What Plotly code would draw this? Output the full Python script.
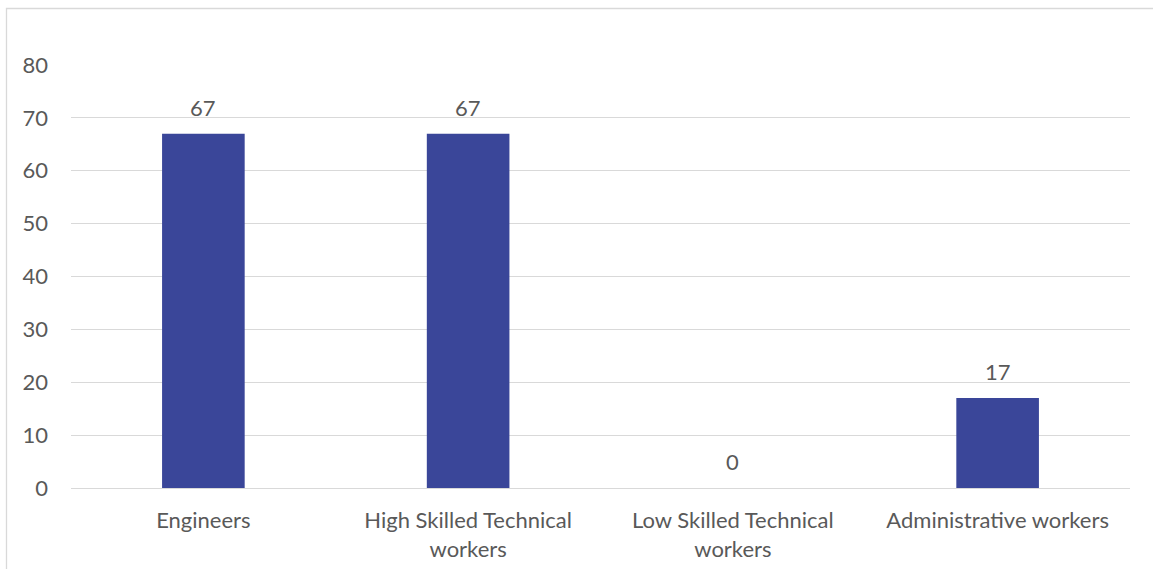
import plotly.graph_objects as go

categories = ["Engineers", "High Skilled Technical<br>workers", "Low Skilled Technical<br>workers", "Administrative workers"]
values = [67, 67, 0, 17]
y_ticks = [0, 10, 20, 30, 40, 50, 60, 70, 80]

W, H = 1153, 569
L, R, T, B = 71, 23, 65, 81
pw, ph = W - L - R, H - T - B

font_family = "Lato, 'Open Sans', sans-serif"
text_color = "#595959"
grid_color = "#d9d9d9"
fs = 22

fig = go.Figure()
fig.add_trace(go.Bar(x=categories, y=values, marker=dict(color="#3A4699", line=dict(width=0)),
                     hoverinfo="skip"))

for c, v in zip(categories, values):
    fig.add_annotation(x=c, y=v, text=str(v), showarrow=False, yanchor="bottom",
                       yshift=11, font=dict(family=font_family, size=fs, color=text_color))

# chart border (outer frame)
fig.add_shape(type="rect", xref="paper", yref="paper",
              x0=(6.5 - L) / pw, x1=(W + 10 - L) / pw,
              y0=(T + ph - (H + 10)) / ph, y1=(T + ph - 8.5) / ph,
              line=dict(color=grid_color, width=1.3), fillcolor="rgba(0,0,0,0)", layer="below")

fig.update_layout(
    width=W, height=H,
    margin=dict(l=L, r=R, t=T, b=B),
    paper_bgcolor="white", plot_bgcolor="white",
    bargap=0.688,
    showlegend=False,
    font=dict(family=font_family, size=fs, color=text_color),
)
fig.update_xaxes(showgrid=False, showline=False, ticks="", ticklabelstandoff=17, automargin=False,
                 tickfont=dict(family=font_family, size=fs, color=text_color))
fig.update_yaxes(range=[0, 80], tickvals=y_ticks, showgrid=True, gridcolor=grid_color, gridwidth=1.3,
                 zeroline=True, zerolinecolor=grid_color, zerolinewidth=1.3, showline=False,
                 ticks="", ticklabelstandoff=22, automargin=False,
                 tickfont=dict(family=font_family, size=fs, color=text_color))

fig.write_html("out.html")
